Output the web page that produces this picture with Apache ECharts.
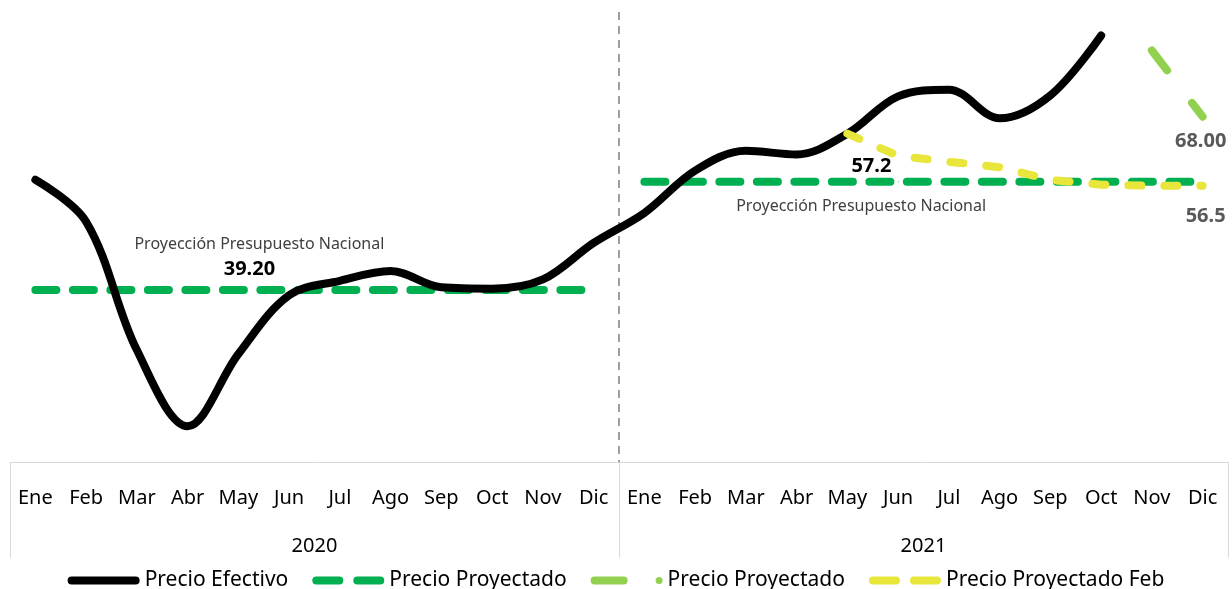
<!DOCTYPE html>
<html>
<head>
<meta charset="utf-8">
<script src="https://cdn.jsdelivr.net/npm/echarts@6/dist/echarts.min.js"></script>
<style>
html,body{margin:0;padding:0;background:#fff;}
#chart{width:1232px;height:589px;}
</style>
</head>
<body>
<div id="chart"></div>
<script>
const months = ['Ene','Feb','Mar','Abr','May','Jun','Jul','Ago','Sep','Oct','Nov','Dic',
                'Ene','Feb','Mar','Abr','May','Jun','Jul','Ago','Sep','Oct','Nov','Dic'];
const years = ['2020','2021'];
const precioEfectivo = [57.52,50.54,29.21,16.55,28.56,38.31,40.71,42.34,39.63,39.40,40.94,47.02,
                        52.00,59.04,62.33,61.72,65.17,71.38,72.49,67.73,71.54,81.48,null,null];
const proyectado2020 = [39.2,39.2,39.2,39.2,39.2,39.2,39.2,39.2,39.2,39.2,39.2,39.2,
                        null,null,null,null,null,null,null,null,null,null,null,null];
const proyectado2021 = [null,null,null,null,null,null,null,null,null,null,null,null,
                        57.2,57.2,57.2,57.2,57.2,57.2,57.2,57.2,57.2,57.2,57.2,57.2];
const proyectadoNov = [null,null,null,null,null,null,null,null,null,null,null,null,
                       null,null,null,null,null,null,null,null,null,null,79.0,68.0];
const proyectadoFeb = [null,null,null,null,null,null,null,null,null,null,null,null,
                       null,null,null,null,65.17,61.5,60.5,59.6,57.5,56.7,56.5,56.5];

const FONT = 'Noto Sans';
const C_BLACK = '#000000', C_GREEN = '#00b050', C_LGREEN = '#92d050', C_YELLOW = '#e8e63a';

// attach a label to selected points; labelled points get a tiny symbol so the label renders
function withLabels(arr, labels) {
  return arr.map((v, i) => labels[i]
    ? { value: v, symbol: 'circle', symbolSize: 1, label: labels[i] }
    : v);
}
const boldLbl = (color, extra) => Object.assign({
  show: true, fontFamily: FONT, fontWeight: 'bold', fontSize: 20, color: color
}, extra);

const chart = echarts.init(document.getElementById('chart'), null, { renderer: 'canvas' });
chart.setOption({
  animation: false,
  backgroundColor: '#ffffff',
  grid: { left: 10, right: 4, top: 12, bottom: 127 },
  xAxis: [
    {
      type: 'category', data: months, boundaryGap: true,
      axisLine: { show: true, lineStyle: { color: '#d9d9d9', width: 1 } },
      axisTick: { show: false },
      axisLabel: { interval: 0, margin: 26, fontFamily: FONT, fontSize: 20, color: '#000' },
      splitLine: { show: false }
    },
    {
      type: 'category', data: years, position: 'bottom', boundaryGap: true,
      axisLine: { show: false },
      axisTick: { show: true, interval: 0, length: 96, lineStyle: { color: '#d9d9d9', width: 1 } },
      axisLabel: { interval: 0, margin: 74, fontFamily: FONT, fontSize: 20, color: '#000' },
      splitLine: { show: true, showMinLine: false, showMaxLine: false, interval: 0,
                   lineStyle: { color: '#7f7f7f', width: 1.5, type: [8, 6] } }
    }
  ],
  yAxis: { type: 'value', min: 10.6, max: 85.4, show: false, splitLine: { show: false } },
  legend: {
    top: 565, left: 'center', itemWidth: 72, itemHeight: 8, itemGap: 24,
    textStyle: { fontFamily: FONT, fontSize: 21, color: '#000' },
    formatter: n => n.trim(),
    data: [
      { name: 'Precio Efectivo', icon: 'path://M4,0L68,0A4,4,0,0,1,68,8L4,8A4,4,0,0,1,4,0Z' },
      { name: 'Precio Proyectado', icon: 'path://M4,0L27,0A4,4,0,0,1,27,8L4,8A4,4,0,0,1,4,0ZM45,0L68,0A4,4,0,0,1,68,8L45,8A4,4,0,0,1,45,0Z' },
      { name: 'Precio Proyectado ', icon: 'path://M4,0L33,0A4,4,0,0,1,33,8L4,8A4,4,0,0,1,4,0ZM65,4A3.5,3.5,0,1,0,72,4A3.5,3.5,0,1,0,65,4Z' },
      { name: 'Precio Proyectado Feb', icon: 'path://M4,0L27,0A4,4,0,0,1,27,8L4,8A4,4,0,0,1,4,0ZM45,0L68,0A4,4,0,0,1,68,8L45,8A4,4,0,0,1,45,0Z' }
    ]
  },
  series: [
    {
      name: 'Precio Efectivo', type: 'line', data: precioEfectivo, smooth: 0.35,
      showSymbol: false, symbol: 'none', connectNulls: false,
      itemStyle: { color: C_BLACK },
      lineStyle: { color: C_BLACK, width: 8, cap: 'round', join: 'round' },
      z: 3
    },
    {
      name: 'Precio Proyectado', type: 'line', smooth: false, showSymbol: true, symbol: 'none',
      data: withLabels(proyectado2020, {
        4: boldLbl('#000', {
          position: 'top', distance: 8, offset: [11, 0],
          formatter: p => '{a|Proyección Presupuesto Nacional}\n{b|' + p.value.toFixed(2) + '}',
          rich: {
            a: { fontFamily: FONT, fontSize: 16, fontWeight: 'normal', color: '#404040', lineHeight: 27,
                 align: 'center', padding: [0, 0, 0, 20] },
            b: { fontFamily: FONT, fontSize: 20, fontWeight: 'bold', color: '#000', lineHeight: 24, align: 'center' }
          }
        })
      }),
      itemStyle: { color: C_GREEN },
      lineStyle: { color: C_GREEN, width: 8, type: [21, 16.5], cap: 'round' },
      z: 2
    },
    {
      name: 'Precio Proyectado', type: 'line', smooth: false, showSymbol: true, symbol: 'none',
      data: withLabels(proyectado2021, {
        16: boldLbl('#000', { position: 'top', distance: 5, offset: [24, 0], formatter: p => p.value.toFixed(1) }),
        17: { show: true, position: 'bottom', distance: 16, offset: [-37, 0], fontFamily: FONT, fontSize: 16,
              color: '#404040', formatter: 'Proyección Presupuesto Nacional' }
      }),
      itemStyle: { color: C_GREEN },
      lineStyle: { color: C_GREEN, width: 8, type: [21, 16.5], cap: 'round' },
      z: 2
    },
    {
      name: 'Precio Proyectado ', type: 'line', smooth: false, showSymbol: true, symbol: 'none',
      data: withLabels(proyectadoNov, {
        23: boldLbl('#595959', { position: 'bottom', distance: 14, offset: [-2, 0], formatter: p => p.value.toFixed(2) })
      }),
      itemStyle: { color: C_LGREEN },
      lineStyle: { color: C_LGREEN, width: 8, type: [25, 41], cap: 'round' },
      z: 2
    },
    {
      name: 'Precio Proyectado Feb', type: 'line', smooth: false, showSymbol: true, symbol: 'none',
      data: withLabels(proyectadoFeb, {
        23: boldLbl('#595959', { position: 'bottom', distance: 20, offset: [3, 0], formatter: p => p.value.toFixed(1) })
      }),
      itemStyle: { color: C_YELLOW },
      lineStyle: { color: C_YELLOW, width: 8, type: [13, 23], cap: 'round' },
      z: 4
    }
  ]
});
</script>
</body>
</html>
